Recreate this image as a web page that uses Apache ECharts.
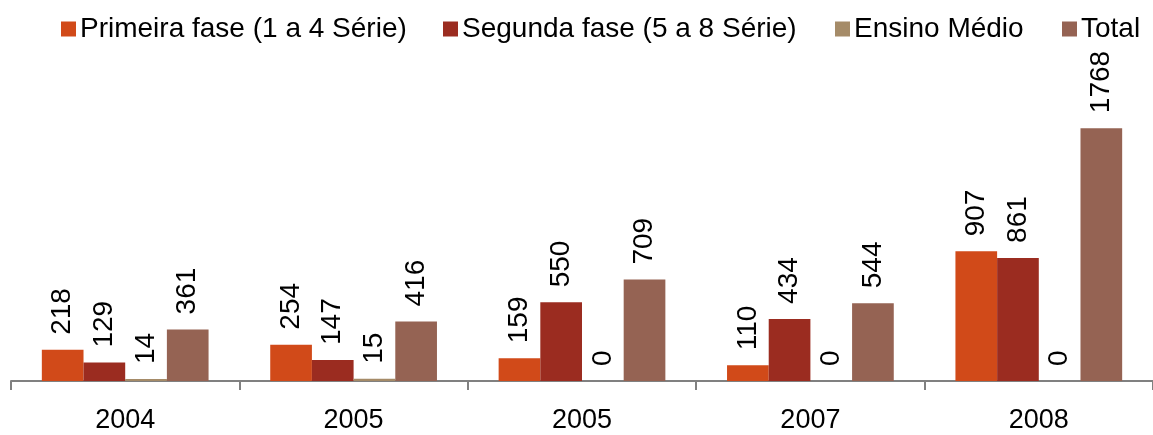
<!DOCTYPE html>
<html>
<head>
<meta charset="utf-8">
<script src="https://cdn.jsdelivr.net/npm/echarts@6/dist/echarts.min.js"></script>
<style>
  html, body { margin: 0; padding: 0; background: #fff; }
  #chart { width: 1153px; height: 435px; }
</style>
</head>
<body>
<div id="chart"></div>
<script>
const years = ['2004', '2005', '2005', '2007', '2008']
const seriesNames = ['Primeira fase (1 a 4 Série)', 'Segunda fase (5 a 8 Série)', 'Ensino Médio', 'Total']
const primeira = [218, 254, 159, 110, 907]
const segunda = [129, 147, 550, 434, 861]
const ensino = [14, 15, 0, 0, 0]
const total = [361, 416, 709, 544, 1768]

const colorList = ['#D14A19', '#9B2C20', '#A58B68', '#956353']
const font = '"Liberation Sans", Arial, Helvetica, sans-serif'
// legend item left edges, one legend per item to keep the uneven spacing
const legendLeft = [61, 443, 835, 1062]

const chart = echarts.init(document.getElementById('chart'))

const series = [primeira, segunda, ensino, total].map((data, i) => ({
  type: 'bar',
  name: seriesNames[i],
  barGap: 0,
  barCategoryGap: '27%',
  itemStyle: { color: colorList[i] },
  label: {
    show: true,
    position: 'top',
    rotate: 90,
    align: 'left',
    verticalAlign: 'middle',
    distance: 15,
    color: '#000',
    fontSize: 28,
    fontFamily: font
  },
  data
}))

const legend = seriesNames.map((name, i) => ({
  data: [name],
  top: 15,
  left: legendLeft[i],
  padding: 0,
  itemWidth: 15,
  itemHeight: 15,
  itemGap: 0,
  icon: 'rect',
  textStyle: {
    color: '#000',
    fontSize: 28,
    fontFamily: font,
    padding: [0, 0, 0, -1]
  }
}))

chart.setOption({
  animation: false,
  legend,
  grid: {
    left: 11,
    right: -3,
    top: 95,
    bottom: 54,
    containLabel: false
  },
  xAxis: {
    type: 'category',
    data: years,
    axisLine: { lineStyle: { color: '#808080', width: 2 } },
    axisTick: { show: true, length: 9, lineStyle: { color: '#808080', width: 2 } },
    axisLabel: {
      color: '#000',
      fontSize: 27,
      fontFamily: font,
      margin: 26
    }
  },
  yAxis: {
    type: 'value',
    min: 0,
    max: 2000,
    show: false,
    splitLine: { show: false }
  },
  series
})
</script>
</body>
</html>
